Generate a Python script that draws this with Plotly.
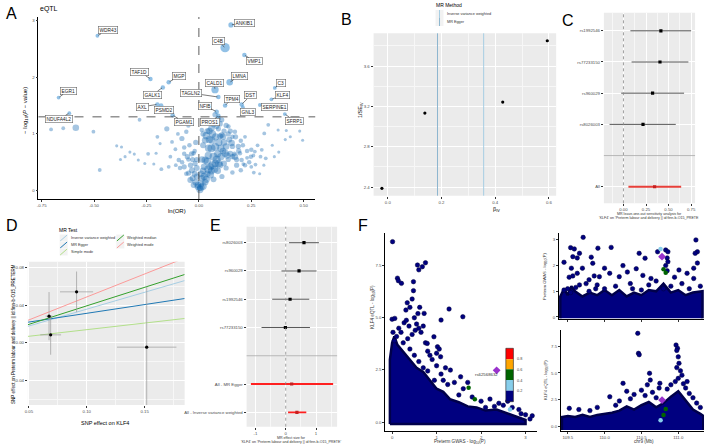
import math
import plotly.graph_objects as go

W, H = 708, 446
def PX(px): return px / W
def PY(py): return 1 - py / H

# ================= DATA =================
# ---- A: eQTL volcano ----
vol_x = [
 -0.705,-0.647,-0.587,-0.503,-0.283,-0.473,-0.392,-0.369,-0.352,-0.374,
 -0.329,-0.308,-0.289,-0.242,-0.258,-0.215,-0.204,-0.198,-0.153,-0.185,
 -0.179,-0.144,-0.136,-0.112,-0.128,-0.081,-0.060,-0.070,-0.096,-0.070,
 -0.055,-0.049,-0.041,-0.025,-0.033,-0.018,-0.025,-0.010,-0.005,-0.030,
 -0.045,-0.020,-0.010,-0.040,-0.060,-0.090,-0.015,-0.050,-0.100,0.014,
 0.030,0.046,0.062,0.078,0.093,0.109,0.101,0.141,0.172,0.125,
 0.156,0.172,0.030,0.054,0.078,0.020,0.040,0.060,0.015,0.010,
 0.005,0.030,0.100,0.090,0.120,0.130,0.110,0.070,0.331,0.312,
 0.378,0.417,0.436,0.481,0.495,0.412,0.381,0.319,0.294,0.262,
 0.250,0.248,0.204,0.212,0.188,0.196,0.160,0.170,0.150,0.140,
 0.230,0.270,0.267,0.230,0.109,0.140,0.120,0.070,0.085,0.093,
 0.077,0.040,0.050,0.035,0.065,0.020,0.045,0.090,0.070,0.105,
 0.120,0.200,0.220,0.160,0.280,0.300,0.350,0.360,0.310,0.290,
 0.200,0.180,0.160,
 0.005,0.010,-0.005,0.020,0.025,0.035,0.045,0.055,0.065,0.075,
 0.085,0.095,0.105,0.115,0.130,0.135,0.145,0.115,0.095,0.080,
 0.060,0.050,0.040,0.025,0.015,0.010,-0.010,-0.020,-0.030,-0.035,
 -0.015,-0.050,-0.070,-0.080,-0.110,0.160,0.180,0.190,0.210,0.250,
 0.240,0.260,0.220,0.175,0.150,0.130,0.100,0.060,0.040,0.020]
vol_y = [
 1.08,1.10,1.11,1.04,1.25,0.365,0.79,0.77,0.60,0.55,
 0.68,0.645,0.54,0.65,0.48,0.47,0.66,0.95,1.09,0.83,
 0.38,0.42,0.60,0.73,0.86,0.92,1.04,0.76,0.54,0.42,
 0.60,0.31,0.19,0.10,0.36,0.48,0.66,0.25,0.07,0.55,
 0.80,0.70,0.40,0.45,0.30,0.40,0.15,1.15,1.00,1.07,
 0.89,0.75,0.89,0.77,1.09,1.25,0.96,1.13,1.04,0.66,
 0.84,0.60,0.54,0.42,0.48,0.35,0.30,0.35,0.22,0.12,
 0.05,0.15,0.45,0.35,0.48,0.40,0.25,0.20,1.16,1.01,
 1.07,1.06,0.95,1.05,0.89,0.90,0.68,0.57,0.60,0.32,
 0.42,0.60,0.54,0.47,0.78,0.66,0.78,0.65,0.65,0.55,
 0.58,0.46,0.69,0.70,0.98,1.00,1.05,1.16,1.13,1.27,
 1.34,1.20,1.05,0.97,1.00,0.80,0.62,0.65,0.60,0.75,
 0.85,0.88,0.95,0.95,0.80,0.72,0.80,0.60,0.45,0.30,
 0.36,0.45,0.32,
 0.02,0.06,0.10,0.08,0.25,0.20,0.38,0.28,0.45,0.38,
 0.55,0.48,0.60,0.70,0.78,0.62,0.90,0.95,0.85,0.95,
 0.75,0.90,0.52,0.42,0.55,0.30,0.55,0.30,0.22,0.65,
 0.85,0.55,0.65,0.50,0.45,0.60,0.55,0.70,0.80,0.72,
 0.50,0.62,0.45,0.95,1.05,1.15,1.18,1.10,1.05,1.00]
vol_w = [
 4,4,8,4,4,4,3,3,3,3,
 3,3,3,4,3,3,3,4,6,3,
 4,4,4,4,4,6,5,5,5,6,
 6,6,7,7,7,6,5,7,8,6,
 5,5,7,6,5,5,8,5,4,5,
 8,9,9,10,6,6,7,5,5,9,
 8,8,9,9,9,8,8,9,8,8,
 7,8,8,8,7,6,6,7,4,4,
 3,3,3,3,3,3,3,4,4,4,
 4,5,5,4,6,5,6,5,7,6,
 4,4,4,5,7,6,6,6,6,6,
 6,5,8,9,9,7,9,9,10,9,
 8,5,4,5,4,4,3,3,3,3,
 5,6,5,
 9,9,8,9,9,9,10,9,10,9,
 10,9,9,8,8,8,7,8,9,9,
 10,9,9,8,8,8,6,7,7,6,
 6,5,5,5,4,6,6,6,5,5,
 5,4,5,6,6,6,7,8,7,6]

gene_names = ["WDR43","EGR1","NDUFA4L2","TAF1D","MGP","GALK1","AXL","PSMD2","PGAM1",
              "TAGLN2","CALD1","NFIB","PROS1","TPM4","ANKIB1","C4B","VMP1","LMNA",
              "C3","KLF4","DST","GNL3","SERPINE1","SFRP1"]
gene_x = [-0.484,-0.669,-0.618,-0.231,-0.144,-0.172,-0.198,-0.180,-0.125,
          0.093,0.077,0.085,0.093,0.125,0.153,0.125,0.217,0.147,
          0.362,0.346,0.204,0.210,0.291,0.410]
gene_y = [2.73,1.64,1.365,1.97,1.91,1.82,1.52,1.50,1.33,
          1.65,1.78,1.39,1.32,1.50,2.92,2.52,2.39,1.91,
          1.81,1.61,1.52,1.47,1.51,1.35]
gene_w = [4,4,4,5,5,5,5,5,5, 5,9,5,5,5,6,12,5,8, 4,4,5,4,4,4]
p_threshold = 0.05

# ---- shared MR estimates (B, D) ----
mr_methods = ["Inverse variance weighted","MR Egger","Simple mode","Weighted median","Weighted mode"]
mr_slope = [0.357, 0.185, 0.140, 0.392, 0.486]
mr_intercept = [0.0, 0.0128, 0.0, 0.0, 0.0]

# ---- B: funnel ----
funnel_b = [-0.022, 0.138, 0.428, 0.594]
funnel_prec = [2.387, 3.134, 3.243, 3.851]

# ---- C: leave-one-out ----
loo_snps = ["rs1992546","rs77233150","rs960029","rs8026003","All"]
loo_b  = [0.415, 0.405, 0.323, 0.217, 0.345]
loo_lo = [0.077, 0.090, -0.025, -0.154, 0.055]
loo_hi = [0.750, 0.720, 0.672, 0.580, 0.640]

# ---- D: scatter ----
snp_bx = [0.0674, 0.0688, 0.0912, 0.1518]
snp_by = [0.0283, 0.0085, 0.0540, -0.0045]
snp_sex = [0.0030, 0.0090, 0.0143, 0.0257]
snp_sey = [0.0255, 0.0210, 0.0215, 0.0640]

# ---- E: single SNP forest ----
ss_names = ["rs8026003","rs960029","rs1992546","rs77233150","All - MR Egger","All - Inverse variance weighted"]
ss_b  = [0.603, 0.440, 0.144, -0.010, 0.197, 0.370]
ss_lo = [0.110, -0.140, -0.446, -0.797, -1.147, 0.078]
ss_hi = [1.095, 1.017, 0.777, 0.800, 1.564, 0.679]

# ---- F: colocalisation ----
fm_x = [0.01,0.12,0.14,0.21,0.34,0.31,0.00,0.06,0.27,0.32,
        0.57,0.68,0.75,0.60,0.48,0.48,1.28,1.59,1.10,0.72,
        0.50,0.55,0.60,0.65,0.70,0.62,0.58,0.52,0.45,0.94,
        1.02,1.06,1.09,1.00,0.90,0.80,0.75,0.85,1.31,1.54,
        1.20,1.10,1.00,0.95,1.40,1.60,1.80,1.70,2.00,2.20,
        2.40,2.50,2.70,2.85,2.90,3.00,3.15,3.10,2.60,2.30,
        0.20,0.15,0.10,0.35,0.25,0.40,0.50,0.60,0.70,0.80,
        1.25,1.50,2.10,0.38,0.45,0.40,0.05,0.02,0.79,1.15]
fm_y = [8.65,6.90,6.78,6.65,5.72,5.37,4.93,4.97,4.76,4.88,
        7.53,7.45,7.64,7.30,6.73,6.30,5.42,5.05,4.89,5.21,
        5.00,4.70,4.50,4.30,4.60,5.50,5.20,4.40,4.20,4.09,
        3.61,3.50,3.13,3.30,3.00,3.40,3.80,3.20,2.49,2.17,
        2.60,2.30,2.70,2.00,1.90,1.60,1.20,1.90,1.00,1.10,
        0.90,0.80,0.70,0.60,0.40,0.35,0.30,0.15,1.00,0.75,
        4.30,4.50,4.10,4.00,3.80,3.50,3.20,2.90,2.60,2.45,
        1.80,1.30,0.70,4.60,5.90,5.50,3.90,4.30,3.77,2.00]
# outline of the saturated (overplotted) region
fm_core_x = [-0.05,-0.05,0.00,0.05,0.12,0.20,0.30,0.42,0.55,0.70,0.85,1.00,1.15,1.30,1.50,1.70,1.90,2.10,2.35,2.60,2.80,3.00,3.00,-0.05]
fm_core_y = [-0.10,3.00,3.80,4.10,3.70,3.50,3.20,2.90,2.60,2.40,2.00,1.60,1.45,1.10,0.95,0.75,0.70,0.55,0.60,0.40,0.25,0.10,-0.10,-0.10]

tr_x = [109.71,109.45,109.54,109.59,109.66,109.57,109.63,109.82,109.91,109.55,
        109.57,109.52,109.63,109.70,109.79,109.86,109.75,109.66,109.61,109.50,
        109.45,109.54,109.79,109.88,110.09,110.47,110.55,111.24,111.26,111.23,
        110.72,110.83,110.86,110.85,110.86,110.83,110.85,109.84,110.00,109.93,
        110.07,110.20,110.31,110.43,110.52,110.63,111.01,111.12,111.21,111.26,
        111.21,110.15,110.35,110.60,110.70,110.90,111.05,111.30,110.95,110.25,
        110.38,110.50,110.00,109.90,110.80,111.15]
tr_y = [3.10,2.13,2.70,2.65,2.48,2.35,2.30,2.33,2.68,1.90,
        1.60,1.55,1.70,1.90,1.45,1.60,1.30,1.25,1.15,1.10,
        1.05,0.95,1.00,1.10,2.71,2.48,2.29,3.00,2.54,2.48,
        2.54,2.61,2.54,2.30,2.15,2.00,1.80,2.09,1.90,1.57,
        1.70,1.57,1.75,1.88,1.62,1.50,1.83,1.70,1.90,2.10,
        1.50,1.20,1.30,1.25,1.40,1.20,1.30,1.20,1.55,2.00,
        1.10,1.05,1.10,1.25,1.10,1.10]
tr_core_x = [109.40,109.40,109.45,109.50,109.55,109.60,109.70,109.80,109.90,110.00,110.10,110.20,110.30,110.40,110.50,110.60,110.70,110.80,110.90,111.00,111.10,111.20,111.33,111.33]
tr_core_y = [-0.05,0.80,1.10,0.85,1.20,1.00,0.80,0.95,0.85,1.05,0.85,1.05,0.80,0.95,0.85,1.05,1.00,1.30,0.95,1.05,0.85,0.95,1.00,-0.05]

br_x = [110.45,110.46,110.47,110.97,110.99,110.98,111.00,111.01,110.98,111.03,
        111.05,111.00,110.96,111.07,111.10,111.12,110.61,110.62,110.58,110.75,
        110.74,110.25,110.07,109.52,110.30,110.40,110.50,110.55,110.65,110.85,
        110.90,111.15,111.20,111.25,109.80,109.65,110.15,110.35,110.70,111.30,
        109.90,110.20]
br_y = [8.69,6.83,6.70,7.60,7.30,7.10,6.50,5.90,5.50,5.20,
        4.80,4.50,4.20,4.00,3.60,4.20,4.97,4.34,3.90,4.04,
        3.60,4.04,2.79,1.71,3.30,3.00,3.40,2.90,3.20,3.50,
        3.90,3.10,2.70,2.20,1.50,1.60,2.00,2.60,2.70,1.80,
        1.80,2.40]
br_core_x = [109.42,109.42,109.50,109.60,109.70,109.80,109.90,110.00,110.10,110.20,110.30,110.40,110.50,110.60,110.70,110.80,110.90,111.00,111.10,111.20,111.30,111.34,111.34]
br_core_y = [-0.30,0.90,1.00,0.90,1.10,0.90,1.10,1.20,1.30,1.50,1.90,1.60,2.00,2.30,1.80,2.20,2.80,3.30,2.40,1.60,1.20,1.00,-0.30]

# LD-coloured SNPs (position Mb, GWAS -log10P, eQTL -log10P, r2)
ld_pos  = [110.78, 110.83, 110.80, 110.76]
ld_gwas = [2.35, 1.72, 1.86, 2.65]
ld_eqtl = [2.48, 1.65, 1.09, 0.60]
ld_r2   = [1.00, 0.50, 0.45, 0.30]
lead_snp = "rs62568632"
ld_bins = [0.2, 0.4, 0.6, 0.8, 1.0]
ld_colors = ["#000080", "#87CEEB", "#006400", "#FFA500", "#FF0000"]

# ================= FIGURE =================
fig = go.Figure()
NAVY = "#000080"
FAM = "Liberation Sans, Arial"
TICKF = dict(size=4.3, color="#4d4d4d", family=FAM)

classic = dict(showline=True, linecolor="black", linewidth=0.8, ticks="outside", ticklen=2,
               tickwidth=0.6, tickcolor="#333", showgrid=False, zeroline=False, tickfont=TICKF)
def gray(minor_vals):
    return dict(showline=False, ticks="outside", ticklen=2, tickwidth=0.6, tickcolor="#333",
                showgrid=True, gridcolor="white", gridwidth=0.8, zeroline=False, tickfont=TICKF,
                minor=dict(tickmode="array", tickvals=minor_vals, showgrid=True,
                           gridcolor="#F7F7F7", gridwidth=0.4, ticks=""))

def txt(px, py, s, size=5, color="#333", angle=0, xanchor="center", yanchor="middle"):
    fig.add_annotation(x=PX(px), y=PY(py), xref="paper", yref="paper", text=s, showarrow=False,
                       font=dict(size=size, color=color, family=FAM),
                       textangle=angle, xanchor=xanchor, yanchor=yanchor, borderpad=0)

# ---------- A ----------
fig.add_trace(go.Scatter(x=vol_x, y=vol_y, mode="markers", xaxis="x", yaxis="y",
    marker=dict(size=[1 + 0.7 * w for w in vol_w], color="rgba(22,105,178,0.55)", line=dict(width=0))))
fig.add_trace(go.Scatter(x=gene_x, y=gene_y, mode="markers", xaxis="x", yaxis="y",
    marker=dict(size=[1 + 0.7 * w for w in gene_w], color="rgba(60,145,210,0.8)", line=dict(width=0))))
thr = -math.log10(p_threshold)
fig.add_shape(type="line", xref="x", yref="y domain", x0=0, x1=0, y0=0, y1=1,
              line=dict(color="#333", width=0.8, dash="dash"))
fig.add_shape(type="line", xref="x domain", yref="y", x0=0, x1=1, y0=thr, y1=thr,
              line=dict(color="#333", width=0.8, dash="dash"))
# label placement (layout only): offsets from each point, in axis units
LABEL_POS = {"WDR43":(0.05,0.10),"EGR1":(0.045,0.12),"NDUFA4L2":(-0.05,-0.10),"TAF1D":(-0.05,0.12),
             "MGP":(0.05,0.11),"GALK1":(-0.05,-0.13),"AXL":(-0.07,-0.04),"PSMD2":(0.015,-0.07),
             "PGAM1":(0.055,-0.12),"TAGLN2":(-0.13,0.07),"CALD1":(-0.004,0.11),"NFIB":(-0.058,0.11),
             "PROS1":(-0.038,-0.11),"TPM4":(0.032,0.12),"ANKIB1":(0.065,0.04),"C4B":(-0.032,0.11),
             "VMP1":(0.05,-0.11),"LMNA":(0.046,0.11),"C3":(0.032,0.09),"KLF4":(0.052,0.07),
             "DST":(0.044,0.16),"GNL3":(0.022,-0.08),"SERPINE1":(0.071,-0.04),"SFRP1":(0.047,-0.12)}
for n, gx, gy in zip(gene_names, gene_x, gene_y):
    dx, dy = LABEL_POS[n]
    fig.add_annotation(x=gx, y=gy, xref="x", yref="y", ax=gx + dx, ay=gy + dy, axref="x", ayref="y",
                       text=n, showarrow=True, arrowhead=0, arrowwidth=0.6, arrowcolor="#222",
                       bgcolor="white", bordercolor="#666", borderwidth=0.6, borderpad=1,
                       font=dict(size=4.8, color="#222", family=FAM), standoff=1)

# ---------- B ----------
fig.add_shape(type="rect", xref="x2 domain", yref="y2 domain", x0=0, x1=1, y0=0, y1=1,
              fillcolor="#EBEBEB", line=dict(width=0), layer="below")
fig.add_trace(go.Scatter(x=funnel_b, y=funnel_prec, mode="markers", xaxis="x2", yaxis="y2",
                         marker=dict(size=3.2, color="black")))
for xv, col in [(mr_slope[1], "#8DB6CF"), (mr_slope[0], "#A6CEE3")]:
    fig.add_shape(type="line", xref="x2", yref="y2 domain", x0=xv, x1=xv, y0=0, y1=1,
                  line=dict(color=col, width=1))

# ---------- C ----------
fig.add_shape(type="rect", xref="x3 domain", yref="y3 domain", x0=0, x1=1, y0=0, y1=1,
              fillcolor="#EBEBEB", line=dict(width=0), layer="below")
loo_pos = [6, 5, 4, 3, 1]
fig.add_shape(type="line", xref="x3", yref="y3 domain", x0=0, x1=0, y0=0, y1=1,
              line=dict(color="#888", width=0.8, dash="dot"))
fig.add_shape(type="line", xref="x3 domain", yref="y3", x0=0, x1=1, y0=2, y1=2,
              line=dict(color="#AAAAAA", width=0.8))
fig.add_trace(go.Scatter(x=loo_b[:4], y=loo_pos[:4], mode="markers", xaxis="x3", yaxis="y3",
    marker=dict(size=3.2, color="black", symbol="square"),
    error_x=dict(type="data", array=[h - b for h, b in zip(loo_hi[:4], loo_b[:4])],
                 arrayminus=[b - l for b, l in zip(loo_b[:4], loo_lo[:4])], width=0, thickness=0.9, color="#444")))
fig.add_trace(go.Scatter(x=loo_b[4:], y=loo_pos[4:], mode="markers", xaxis="x3", yaxis="y3",
    marker=dict(size=3.2, color="#C62020", symbol="square"),
    error_x=dict(type="data", array=[loo_hi[4] - loo_b[4]], arrayminus=[loo_b[4] - loo_lo[4]],
                 width=0, thickness=2.2, color="#E8403A")))

# ---------- D ----------
fig.add_shape(type="rect", xref="x4 domain", yref="y4 domain", x0=0, x1=1, y0=0, y1=1,
              fillcolor="#EBEBEB", line=dict(width=0), layer="below")
d_range = [0.0491, 0.1846]
d_cols = ["#A6CEE3", "#1F78B4", "#B2DF8A", "#33A02C", "#FB9A99"]
for m, s, ic, col in zip(mr_methods, mr_slope, mr_intercept, d_cols):
    fig.add_trace(go.Scatter(x=d_range, y=[ic + s * v for v in d_range], mode="lines",
                             xaxis="x4", yaxis="y4", line=dict(color=col, width=1)))
fig.add_trace(go.Scatter(x=snp_bx, y=snp_by, mode="markers", xaxis="x4", yaxis="y4",
    marker=dict(size=3.2, color="black"),
    error_x=dict(type="data", array=snp_sex, width=0, thickness=0.7, color="#999"),
    error_y=dict(type="data", array=snp_sey, width=0, thickness=0.7, color="#999")))

# ---------- E ----------
fig.add_shape(type="rect", xref="x5 domain", yref="y5 domain", x0=0, x1=1, y0=0, y1=1,
              fillcolor="#EBEBEB", line=dict(width=0), layer="below")
ss_pos = [7, 6, 5, 4, 2, 1]
fig.add_shape(type="line", xref="x5", yref="y5 domain", x0=0, x1=0, y0=0, y1=1,
              line=dict(color="#888", width=0.8, dash="dot"))
fig.add_shape(type="line", xref="x5 domain", yref="y5", x0=0, x1=1, y0=3, y1=3,
              line=dict(color="#AAAAAA", width=0.8))
fig.add_trace(go.Scatter(x=ss_b[:4], y=ss_pos[:4], mode="markers", xaxis="x5", yaxis="y5",
    marker=dict(size=3.2, color="black", symbol="square"),
    error_x=dict(type="data", array=[h - b for h, b in zip(ss_hi[:4], ss_b[:4])],
                 arrayminus=[b - l for b, l in zip(ss_b[:4], ss_lo[:4])], width=0, thickness=0.9, color="#444")))
fig.add_trace(go.Scatter(x=ss_b[4:], y=ss_pos[4:], mode="markers", xaxis="x5", yaxis="y5",
    marker=dict(size=3.2, color="#C62020", symbol="square"),
    error_x=dict(type="data", array=[h - b for h, b in zip(ss_hi[4:], ss_b[4:])],
                 arrayminus=[b - l for b, l in zip(ss_b[4:], ss_lo[4:])], width=0, thickness=1.8, color="#FF2020")))

# ---------- F ----------
def ldcol(r):
    for b, c in zip(ld_bins, ld_colors):
        if r <= b:
            return c
    return ld_colors[-1]

mk = dict(size=4.5, color=NAVY, line=dict(color="#00003A", width=0.5))
def core(xs, ys, xa, ya):
    fig.add_trace(go.Scatter(x=xs, y=ys, mode="lines", fill="toself", fillcolor=NAVY,
                             line=dict(color="#00004A", width=2.5, shape="linear"), xaxis=xa, yaxis=ya))
# main
core(fm_core_x, fm_core_y, "x6", "y6")
fig.add_trace(go.Scatter(x=fm_x, y=fm_y, mode="markers", marker=mk, xaxis="x6", yaxis="y6"))
fig.add_trace(go.Scatter(x=ld_gwas[1:], y=ld_eqtl[1:], mode="markers", xaxis="x6", yaxis="y6",
                         marker=dict(size=4.5, color=[ldcol(r) for r in ld_r2[1:]])))
fig.add_trace(go.Scatter(x=ld_gwas[:1], y=ld_eqtl[:1], mode="markers", xaxis="x6", yaxis="y6",
                         marker=dict(size=6, color="#9932CC", symbol="diamond")))
fig.add_annotation(x=ld_gwas[0], y=ld_eqtl[0], xref="x6", yref="y6", text=lead_snp, showarrow=False,
                   xanchor="right", yanchor="middle", xshift=3, yshift=-4,
                   font=dict(size=4.3, color="#333", family=FAM))
# top right (GWAS)
core(tr_core_x, tr_core_y, "x7", "y7")
fig.add_trace(go.Scatter(x=tr_x, y=tr_y, mode="markers", marker=mk, xaxis="x7", yaxis="y7"))
fig.add_trace(go.Scatter(x=ld_pos[1:], y=ld_gwas[1:], mode="markers", xaxis="x7", yaxis="y7",
                         marker=dict(size=4.5, color=[ldcol(r) for r in ld_r2[1:]])))
fig.add_trace(go.Scatter(x=ld_pos[:1], y=ld_gwas[:1], mode="markers", xaxis="x7", yaxis="y7",
                         marker=dict(size=6, color="#9932CC", symbol="diamond")))
# bottom right (eQTL)
core(br_core_x, br_core_y, "x8", "y8")
fig.add_trace(go.Scatter(x=br_x, y=br_y, mode="markers", marker=mk, xaxis="x8", yaxis="y8"))
fig.add_trace(go.Scatter(x=ld_pos[1:], y=ld_eqtl[1:], mode="markers", xaxis="x8", yaxis="y8",
                         marker=dict(size=4.5, color=[ldcol(r) for r in ld_r2[1:]])))
fig.add_trace(go.Scatter(x=ld_pos[:1], y=ld_eqtl[:1], mode="markers", xaxis="x8", yaxis="y8",
                         marker=dict(size=6, color="#9932CC", symbol="diamond")))

# LD colour key (legend)
seg_top = [348.3, 359.3, 369.3, 380.0, 390.7]
seg_bot = [359.3, 369.3, 380.0, 390.7, 401.7]
for c, t, b in zip(ld_colors[::-1], seg_top, seg_bot):
    fig.add_shape(type="rect", xref="paper", yref="paper", x0=PX(505.7), x1=PX(513.3), y0=PY(b), y1=PY(t),
                  fillcolor=c, line=dict(width=0))
fig.add_shape(type="rect", xref="paper", yref="paper", x0=PX(505.7), x1=PX(513.3), y0=PY(401.7), y1=PY(348.3),
              line=dict(color="#222", width=0.6))
for v, yy in zip([0.8, 0.6, 0.4, 0.2], [359.3, 370.0, 380.7, 391.2]):
    txt(515.5, yy, f"{v:.1f}", size=3.8, color="#444", xanchor="left")

# ================= AXES =================
fig.update_layout(
    width=W, height=H, margin=dict(l=0, r=0, t=0, b=0), showlegend=False,
    paper_bgcolor="white", plot_bgcolor="rgba(0,0,0,0)",
    font=dict(family=FAM),
    xaxis=dict(domain=[PX(35.7), PX(314)], range=[-0.765, 0.555], anchor="y",
               tickvals=[-0.75, -0.5, -0.25, 0, 0.25, 0.5],
               ticktext=["-0.75", "-0.50", "-0.25", "0.00", "0.25", "0.50"], **classic),
    yaxis=dict(domain=[PY(199), PY(17)], range=[-0.146, 3.06], anchor="x", tickvals=[0, 1, 2, 3], **classic),
    xaxis2=dict(domain=[PX(372.7), PX(556.3)], range=[-0.053, 0.627], anchor="y2",
                tickvals=[0, 0.2, 0.4, 0.6], ticktext=["0.0", "0.2", "0.4", "0.6"], **gray([0.1, 0.3, 0.5])),
    yaxis2=dict(domain=[PY(195.7), PY(33.3)], range=[2.314, 3.925], anchor="x2",
                tickvals=[2.4, 2.8, 3.2, 3.6], ticktext=["2.4", "2.8", "3.2", "3.6"], **gray([2.6, 3.0, 3.4, 3.8])),
    xaxis3=dict(domain=[PX(604.3), PX(696)], range=[-0.217, 0.794], anchor="y3",
                tickvals=[0, 0.25, 0.5, 0.75], ticktext=["0.00", "0.25", "0.50", "0.75"],
                **gray([-0.125, 0.125, 0.375, 0.625])),
    yaxis3=dict(domain=[PY(203.3), PY(12.7)], range=[0.47, 6.58], anchor="x3",
                tickvals=loo_pos, ticktext=loo_snps, **gray([])),
    xaxis4=dict(domain=[PX(25), PX(182.7)], range=d_range, anchor="y4",
                tickvals=[0.05, 0.10, 0.15], ticktext=["0.05", "0.10", "0.15"], **gray([0.075, 0.125, 0.175])),
    yaxis4=dict(domain=[PY(405), PY(261.7)], range=[-0.0657, 0.0859], anchor="x4",
                tickvals=[-0.04, 0, 0.04, 0.08], ticktext=["-0.04", "0.00", "0.04", "0.08"],
                **gray([-0.06, -0.02, 0.02, 0.06])),
    xaxis5=dict(domain=[PX(245), PX(336)], range=[-1.289, 1.695], anchor="y5",
                tickvals=[-1, 0, 1], ticktext=["-1", "0", "1"], **gray([-0.5, 0.5, 1.5])),
    yaxis5=dict(domain=[PY(426.7), PY(226.7)], range=[0.49, 7.566], anchor="x5",
                tickvals=ss_pos, ticktext=ss_names, **gray([])),
    xaxis6=dict(domain=[PX(384.3), PX(536.7)], range=[-0.157, 3.25], anchor="y6",
                tickvals=[0, 1, 2, 3], **classic),
    yaxis6=dict(domain=[PY(431), PY(232.7)], range=[-0.43, 9.08], anchor="x6",
                tickvals=[0, 2.5, 5, 7.5], ticktext=["0.0", "2.5", "5.0", "7.5"], **classic),
    xaxis7=dict(domain=[PX(559), PX(705)], range=[109.38, 111.35], anchor="y7",
                tickvals=[109.5, 110, 110.5, 111], showticklabels=False, **classic),
    yaxis7=dict(domain=[PY(319.3), PY(233)], range=[-0.09, 3.27], anchor="x7",
                tickvals=[0, 1, 2, 3], **classic),
    xaxis8=dict(domain=[PX(561), PX(705)], range=[109.405, 111.35], anchor="y8",
                tickvals=[109.5, 110, 110.5, 111], ticktext=["109.5", "110.0", "110.5", "111.0"], **classic),
    yaxis8=dict(domain=[PY(430.7), PY(330)], range=[-0.37, 9.0], anchor="x8",
                tickvals=[0, 2.5, 5, 7.5], ticktext=["0.0", "2.5", "5.0", "7.5"], **classic),
)

# ================= TEXT =================
for L, x, y in [("A", 9, 14), ("B", 345, 19), ("C", 568, 20), ("D", 9, 225), ("E", 214, 225), ("F", 362, 225)]:
    txt(x, y, L, size=16, color="black")
txt(36, 9, "eQTL", size=7, color="black", xanchor="left")
txt(175, 211, "ln(OR)", size=6, color="black")
txt(22, 110, "− log<sub>10</sub>(<i>P</i> − value)", size=6, color="black", angle=-90)
# B
txt(496, 209, "β<sub>IV</sub>", size=5.5, color="black")
txt(359, 110, "1/SE<sub>IV</sub>", size=5.5, color="black", angle=-90)
txt(434, 5, "MR Method", size=5, color="black", xanchor="left")
for i, (lab, col) in enumerate([("Inverse variance weighted", "#A6CEE3"), ("MR Egger", "#8DB6CF")]):
    yc = 14 + 8 * i
    fig.add_shape(type="rect", xref="paper", yref="paper", x0=PX(435), x1=PX(443), y0=PY(yc + 4), y1=PY(yc - 4),
                  fillcolor="#F2F2F2", line=dict(width=0))
    fig.add_shape(type="line", xref="paper", yref="paper", x0=PX(439), x1=PX(439), y0=PY(yc + 4), y1=PY(yc - 4),
                  line=dict(color=col, width=1))
    txt(446, yc, lab, size=3.8, color="#333", xanchor="left")
# C caption
txt(650, 213.5, "MR leave-one-out sensitivity analysis for", size=3.6, color="#333")
txt(650, 217.5, "'KLF4' on 'Preterm labour and delivery || id:finn-b-O15_PRETE", size=3.6, color="#333")
# D
txt(103, 423, "SNP effect on KLF4", size=5.5, color="black")
txt(10, 334, "SNP effect on Preterm labour and delivery || id:finn-b-O15_PRETERM", size=4.5, color="black", angle=-90)
txt(55, 230, "MR Test", size=5, color="black", xanchor="left")
d_leg = [(57, 238), (57, 245), (57, 252), (114, 238), (114, 245)]
for (kx, ky), lab, col in zip(d_leg, mr_methods, d_cols):
    fig.add_shape(type="rect", xref="paper", yref="paper", x0=PX(kx), x1=PX(kx + 8), y0=PY(ky + 3.5), y1=PY(ky - 3.5),
                  fillcolor="#F2F2F2", line=dict(width=0))
    fig.add_shape(type="line", xref="paper", yref="paper", x0=PX(kx + 0.5), x1=PX(kx + 7.5), y0=PY(ky + 3), y1=PY(ky - 3),
                  line=dict(color=col, width=1))
    txt(kx + 10, ky, lab, size=3.8, color="#333", xanchor="left")
# E caption
txt(290, 438, "MR effect size for", size=3.6, color="#333")
txt(290, 442.3, "'KLF4' on 'Preterm labour and delivery || id:finn-b-O15_PRETE'", size=3.6, color="#333")
# F
txt(460, 441.5, "Preterm GWAS - log<sub>10</sub>(P)", size=4.6, color="#333")
txt(372, 307, "KLF4 eQTL - log<sub>10</sub>(P)", size=4.6, color="#333", angle=-90)
txt(545, 276, "Preterm GWAS - log<sub>10</sub>(P)", size=4.2, color="#333", angle=-90)
txt(546, 380, "KLF4 eQTL - log<sub>10</sub>(P)", size=4.2, color="#333", angle=-90)
txt(645, 441.5, "chr9 (Mb)", size=4.6, color="#333")

fig.write_html("out.html")
